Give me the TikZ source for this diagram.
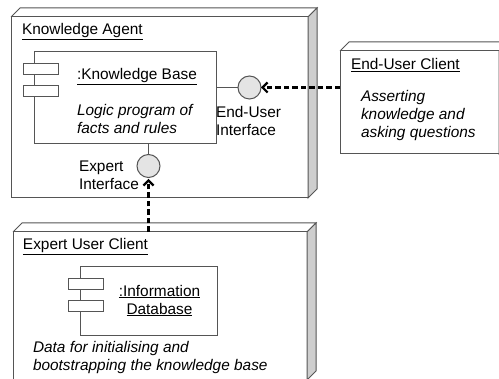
\documentclass[tikz,border=0pt]{standalone}
\usepackage{fontspec}
\setmainfont{Liberation Sans}
\usepackage{xcolor}
\usepackage{tikz}
\usetikzlibrary{calc, arrows.meta, positioning}
\definecolor{edgegray}{RGB}{85,85,85}
\definecolor{sidegray}{RGB}{206,206,206}
\definecolor{ballgray}{RGB}{228,228,228}
\newcommand{\deploydepth}[1]{%
  \draw[edge] (#1.north west) -- ++(9,-9) -- ($(#1.north east)+(9,-9)$) -- (#1.north east);
  \filldraw[edge, fill=sidegray] (#1.north east) -- ++(9,-9) -- ($(#1.south east)+(9,-9)$)
    -- (#1.south east) -- cycle;}

\begin{document}
\begin{tikzpicture}[
  x=1pt, y=-1pt,
  every node/.style={font=\fontsize{15.4}{18}\selectfont, inner sep=0pt, outer sep=0pt},
  edge/.style={draw=edgegray, line width=1pt},
  deploy/.style={edge, fill=white, rectangle},
  comp/.style={edge, fill=white, rectangle},
  tab/.style={edge, fill=white, rectangle, minimum width=35pt, minimum height=11pt},
  ball/.style={edge, fill=ballgray, circle, minimum size=23pt},
  depend/.style={line width=2.2pt, dash pattern=on 5.5pt off 3pt, -{Straight Barb[length=5pt,width=10pt]}},
  txt/.style={anchor=west, align=left}
]
\useasboundingbox (0,0) rectangle (499,379);
\node[deploy, minimum width=297pt, minimum height=181pt] (agent) at (159.5,107.5) {};
\deploydepth{agent}
\node[deploy, minimum width=159pt, minimum height=103pt] (euc) at (419.5,102.5) {};
\deploydepth{euc}
\node[deploy, minimum width=294pt, minimum height=148pt] (exc) at (160,306) {};
\deploydepth{exc}
\node[txt] (agentlbl) at (22,32) {\underline{Knowledge Agent}};
\node[txt] (euclbl) at (351,65) {\underline{End-User Client}};
\node[txt] (exclbl) at (23,247) {\underline{Expert User Client}};
\node[comp, minimum width=182pt, minimum height=92pt] (kb) at (125,98) {};
\node[tab] (kbtab1) at (40.5,69.5) {};
\node[tab] (kbtab2) at (40.5,91.5) {};
\node[txt] (kblbl) at (77,77) {\underline{:Knowledge Base}};
\node[txt] (kbnote) at (77,119) {\itshape Logic program of\\\itshape facts and rules};
\node[comp, minimum width=137pt, minimum height=69pt] (info) at (148.5,301.5) {};
\node[tab] (infotab1) at (86,284.5) {};
\node[tab] (infotab2) at (86,306.5) {};
\node[align=center] (infolbl) at (159.5,300.5) {\underline{:Information}\\\underline{Database}};
\node[txt] (infonote) at (33,357.5) {\itshape Data for initialising and\\\itshape bootstrapping the knowledge base};
\node[ball] (eui) at (249.5,87.5) {};
\node[ball] (exi) at (148.5,166) {};
\node[txt] (euilbl) at (216,121) {End-User\\Interface};
\node[txt] (exilbl) at (79,175.5) {Expert\\Interface};
\node[txt] (eucnote) at (361,116) {\itshape Asserting\\\itshape knowledge and\\\itshape asking questions};
\draw[edge] (kb.east |- eui) -- (eui);
\draw[edge] (kb.south -| exi) -- (exi);
\draw[depend] (euc.west |- eui) -- (eui.east);
\draw[depend] (exc.north -| exi) -- ([yshift=-1.5pt]exi.south);
\end{tikzpicture}
\end{document}
